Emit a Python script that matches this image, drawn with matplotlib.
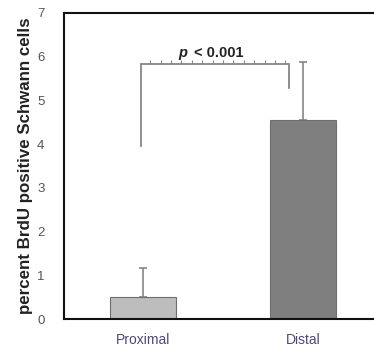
import matplotlib.pyplot as plt
import numpy as np

plt.rcParams['font.family'] = ['Liberation Sans', 'DejaVu Sans']

# 数据
groups = ['Proximal', 'Distal']
means = [0.5, 4.55]
errs = [0.67, 1.33]
bar_colors = ['#bdbdbd', '#7f7f7f']

# 显著性括号
bracket_y = 5.83
bracket_left_low = 3.96
bracket_right_low = 5.28
bracket_x = [-0.01, 0.91]

fig = plt.figure(figsize=(3.74, 3.55), dpi=100)
ax = fig.add_axes([0.171, 0.1014, 0.829, 0.862])

x = np.arange(len(groups))
ax.bar(x, means, width=0.41, color=bar_colors, edgecolor='#6e6e6e', linewidth=0.8, zorder=2)
ax.errorbar(x, means, yerr=[[0, 0], errs], fmt='none', ecolor='#858585',
            elinewidth=1.2, capsize=3, capthick=1.2, zorder=1)

# 括号
bc = '#8a8585'
ax.plot([bracket_x[0], bracket_x[0], bracket_x[1], bracket_x[1]],
        [bracket_left_low, bracket_y, bracket_y, bracket_right_low],
        color=bc, lw=1.3, solid_joinstyle='miter')
ticks_x = np.linspace(bracket_x[0] + 0.055, bracket_x[1] - 0.02, 14)
ax.plot(ticks_x, [bracket_y + 0.04] * len(ticks_x), ls='none', marker='|',
        ms=2.5, color=bc, mew=0.8)
mid = np.mean(bracket_x)
ax.text(mid - 0.231, bracket_y + 0.1, 'p', style='italic', fontweight='bold',
        ha='left', va='bottom', fontsize=10.5, color='#222222')
ax.text(mid - 0.13, bracket_y + 0.1, '< 0.001', fontweight='bold',
        ha='left', va='bottom', fontsize=10.5, color='#222222')

ax.set_xlim(-0.494, 1.444)
ax.set_ylim(0, 7)
ax.set_yticks(range(8))
ax.set_xticks(x)
ax.set_xticklabels(groups, color='#4a4a78', fontsize=10)
ax.tick_params(axis='both', length=0)
ax.tick_params(axis='y', pad=14, labelsize=9.5, labelcolor='#555555')
ax.tick_params(axis='x', pad=10)
for s in ['left', 'top', 'bottom']:
    ax.spines[s].set_linewidth(1.5)
    ax.spines[s].set_color('#111111')
ax.spines['right'].set_visible(False)
ax.set_ylabel('percent BrdU positive Schwann cells', fontsize=12.2, fontweight='bold',
              color='#222222', labelpad=3)

fig.savefig('out.png', dpi=100)
